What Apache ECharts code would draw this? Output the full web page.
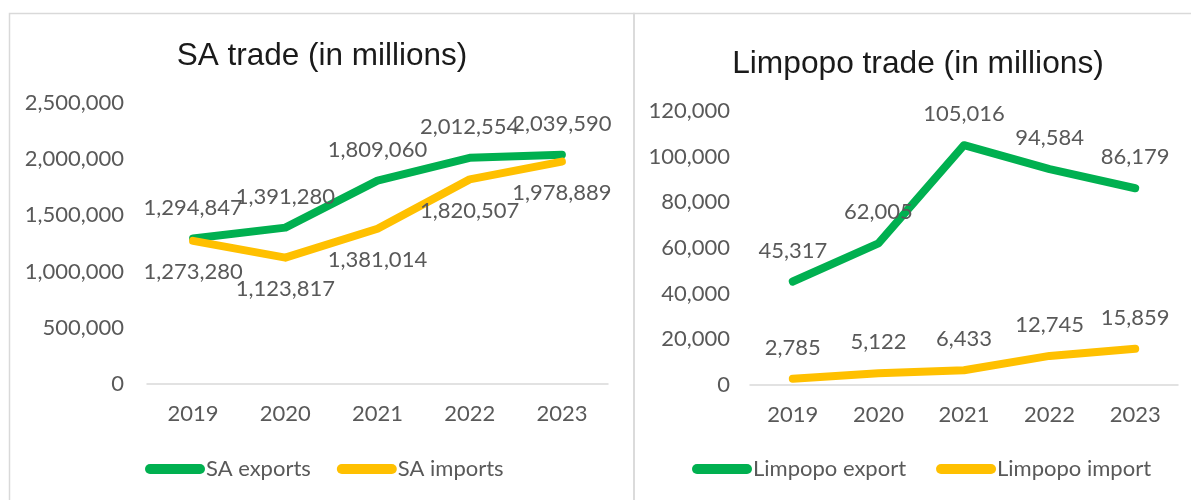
<!DOCTYPE html>
<html>
<head>
<meta charset="utf-8">
<script src="https://cdn.jsdelivr.net/npm/echarts@6/dist/echarts.min.js"></script>
<style>
  html, body { margin: 0; padding: 0; background: #ffffff; }
  #chart { width: 1191px; height: 500px; }
</style>
</head>
<body>
<div id="chart"></div>
<script>
// Trade figures (in millions)
const years = ['2019', '2020', '2021', '2022', '2023'];
const saExports = [1294847, 1391280, 1809060, 2012554, 2039590];
const saImports = [1273280, 1123817, 1381014, 1820507, 1978889];
const limpopoExport = [45317, 62005, 105016, 94584, 86179];
const limpopoImport = [2785, 5122, 6433, 12745, 15859];

const GREEN = '#00B050';
const YELLOW = '#FFC000';
const TEXT_GRAY = '#595959';
const LABEL_FONT = 'Lato, "Open Sans", sans-serif';
const TITLE_FONT = '"Liberation Sans", Arial, sans-serif';
const FS = 22;

const fmt = v => v.toLocaleString('en-US');
const legendIcon = 'path://M5,0 L55,0 A5,5 0 0 1 55,10 L5,10 A5,5 0 0 1 5,0 Z';

function lineSeries(name, data, idx, color, pos) {
  return {
    name: name,
    type: 'line',
    data: data,
    xAxisIndex: idx,
    yAxisIndex: idx,
    symbol: 'circle',
    symbolSize: 0.1,
    showSymbol: true,
    smooth: false,
    lineStyle: { color: color, width: 8, cap: 'round', join: 'round' },
    itemStyle: { color: color },
    label: {
      show: true,
      position: pos,
      distance: 20,
      color: TEXT_GRAY,
      fontFamily: LABEL_FONT,
      fontSize: FS,
      formatter: p => fmt(p.value)
    },
    labelLayout: { hideOverlap: false },
    emphasis: { disabled: true },
    silent: true,
    z: 3
  };
}

function catAxis(idx) {
  return {
    type: 'category',
    gridIndex: idx,
    data: years,
    boundaryGap: true,
    axisTick: { show: false },
    axisLine: { show: true, lineStyle: { color: '#d9d9d9', width: 1.5 } },
    axisLabel: { color: TEXT_GRAY, fontFamily: LABEL_FONT, fontSize: FS, margin: 19 }
  };
}

function valAxis(idx, max, interval, margin) {
  return {
    type: 'value',
    gridIndex: idx,
    min: 0,
    max: max,
    interval: interval,
    splitLine: { show: false },
    axisLine: { show: false },
    axisTick: { show: false },
    axisLabel: {
      color: TEXT_GRAY, fontFamily: LABEL_FONT, fontSize: FS, margin: margin,
      formatter: v => fmt(v)
    }
  };
}

function legend(names, left, gap) {
  return {
    data: names,
    left: left, top: 458,
    padding: 0,
    icon: legendIcon, itemWidth: 60, itemHeight: 10, itemGap: gap,
    textStyle: { color: TEXT_GRAY, fontFamily: LABEL_FONT, fontSize: FS, padding: [0, 0, 0, -4] },
    selectedMode: false
  };
}

const chart = echarts.init(document.getElementById('chart'), null, { renderer: 'canvas' });

chart.setOption({
  animation: false,
  backgroundColor: '#ffffff',
  graphic: [
    { type: 'rect', shape: { x: 9.5, y: 13.5, width: 624.5, height: 520 },
      style: { fill: 'none', stroke: '#d9d9d9', lineWidth: 1.5 }, silent: true },
    { type: 'rect', shape: { x: 634, y: 13.5, width: 600, height: 520 },
      style: { fill: 'none', stroke: '#d9d9d9', lineWidth: 1.5 }, silent: true }
  ],
  title: [
    { text: 'SA trade (in millions)', left: 317, top: 35, textAlign: 'center',
      textStyle: { fontFamily: TITLE_FONT, fontSize: 31.5, fontWeight: 'normal', color: '#1a1a1a' } },
    { text: 'Limpopo trade (in millions)', left: 913, top: 43, textAlign: 'center',
      textStyle: { fontFamily: TITLE_FONT, fontSize: 31.7, fontWeight: 'normal', color: '#1a1a1a' } }
  ],
  legend: [
    legend(['SA exports', 'SA imports'], 145, 26),
    legend(['Limpopo export', 'Limpopo import'], 692, 30)
  ],
  grid: [
    { left: 147, right: 583, top: 103, bottom: 116, containLabel: false },
    { left: 750, right: 13, top: 111, bottom: 115, containLabel: false }
  ],
  xAxis: [catAxis(0), catAxis(1)],
  yAxis: [valAxis(0, 2500000, 500000, 23), valAxis(1, 120000, 20000, 20)],
  series: [
    lineSeries('SA exports', saExports, 0, GREEN, 'top'),
    lineSeries('SA imports', saImports, 0, YELLOW, 'bottom'),
    lineSeries('Limpopo export', limpopoExport, 1, GREEN, 'top'),
    lineSeries('Limpopo import', limpopoImport, 1, YELLOW, 'top')
  ]
});
</script>
</body>
</html>
